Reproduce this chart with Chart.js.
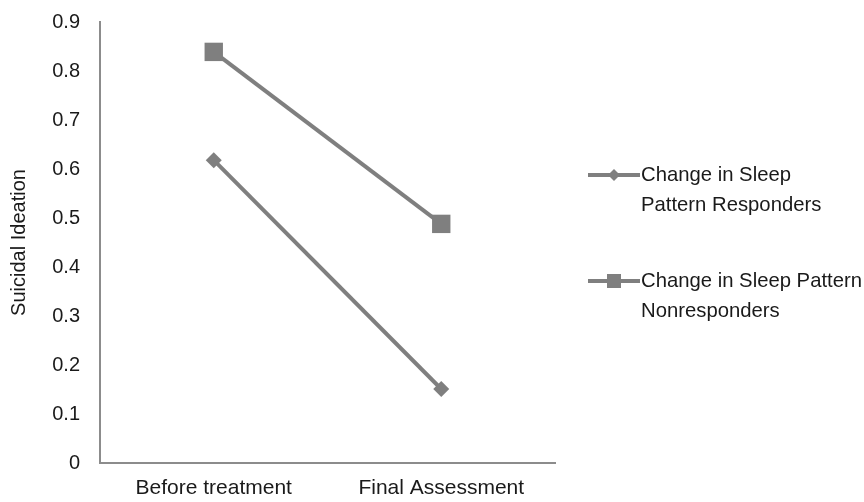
<!DOCTYPE html>
<html lang="en">
<head>
  <meta charset="UTF-8">
  <title>Suicidal Ideation</title>
  <script src="https://cdn.jsdelivr.net/npm/chart.js"></script>
  <style>
    body { margin: 0; background: #fff; }
    .chart-container { width: 864px; height: 502px; }
  </style>
</head>
<body>
  <div class="chart-container"><canvas id="ideationChart"></canvas></div>
  <script>
    const categories = ["Before treatment", "Final Assessment"];
    const responders = [0.618, 0.151];
    const nonresponders = [0.839, 0.488];
    const seriesNames = [["Change in Sleep", "Pattern Responders"], ["Change in Sleep Pattern", "Nonresponders"]];

    const grey = "#7f7f7f";
    const fontFamily = "'Liberation Sans', Arial, sans-serif";

    // legend drawn by hand so the names can wrap like the original
    const sideLegend = {
      id: "sideLegend",
      afterDraw(chart) {
        const ctx = chart.ctx;
        const rows = [175, 281];
        chart.data.datasets.forEach((ds, i) => {
          const y = rows[i];
          ctx.save();
          ctx.strokeStyle = grey;
          ctx.lineWidth = 4;
          ctx.beginPath();
          ctx.moveTo(588, y);
          ctx.lineTo(640, y);
          ctx.stroke();
          ctx.fillStyle = grey;
          if (ds.pointStyle === "rect") {
            ctx.fillRect(607, y - 7, 14, 14);
          } else {
            ctx.beginPath();
            ctx.moveTo(614, y - 6);
            ctx.lineTo(620, y);
            ctx.lineTo(614, y + 6);
            ctx.lineTo(608, y);
            ctx.closePath();
            ctx.fill();
          }
          ctx.fillStyle = "#1a1a1a";
          ctx.font = "20.3px " + fontFamily;
          ctx.textBaseline = "middle";
          seriesNames[i].forEach((line, k) => ctx.fillText(line, 641, y + k * 30));
          ctx.restore();
        });
      }
    };

    new Chart(document.getElementById("ideationChart"), {
      type: "line",
      data: {
        labels: categories,
        datasets: [
          {
            label: seriesNames[0].join(" "),
            data: responders,
            borderColor: grey,
            backgroundColor: grey,
            borderWidth: 4,
            pointStyle: "rectRot",
            pointRadius: 8,
            pointBorderWidth: 0,
            fill: false
          },
          {
            label: seriesNames[1].join(" "),
            data: nonresponders,
            borderColor: grey,
            backgroundColor: grey,
            borderWidth: 4,
            pointStyle: "rect",
            pointRadius: 13,
            pointBorderWidth: 0,
            fill: false
          }
        ]
      },
      options: {
        responsive: true,
        maintainAspectRatio: false,
        animation: false,
        layout: { padding: { left: 0, right: 309, top: 22, bottom: 0 } },
        plugins: { legend: { display: false }, tooltip: { enabled: false } },
        scales: {
          x: {
            offset: true,
            grid: { display: false, drawTicks: false },
            border: { display: true, color: "#8c8c8c", width: 2 },
            ticks: { color: "#1a1a1a", padding: 13, font: { family: fontFamily, size: 21 } },
            afterFit: (scale) => { scale.height = 39; }
          },
          y: {
            min: 0,
            max: 0.9,
            grid: { display: false, drawTicks: false },
            border: { display: true, color: "#8c8c8c", width: 2 },
            ticks: { stepSize: 0.1, color: "#1a1a1a", padding: 20, font: { family: fontFamily, size: 20 } },
            title: {
              display: true,
              text: "Suicidal Ideation",
              color: "#1a1a1a",
              padding: { top: 7, bottom: 0 },
              font: { family: fontFamily, size: 20 }
            },
            afterFit: (scale) => {
              scale.width = 100;
              scale.paddingTop = 0;
              scale.paddingBottom = 0;
            }
          }
        }
      },
      plugins: [sideLegend]
    });
  </script>
</body>
</html>
